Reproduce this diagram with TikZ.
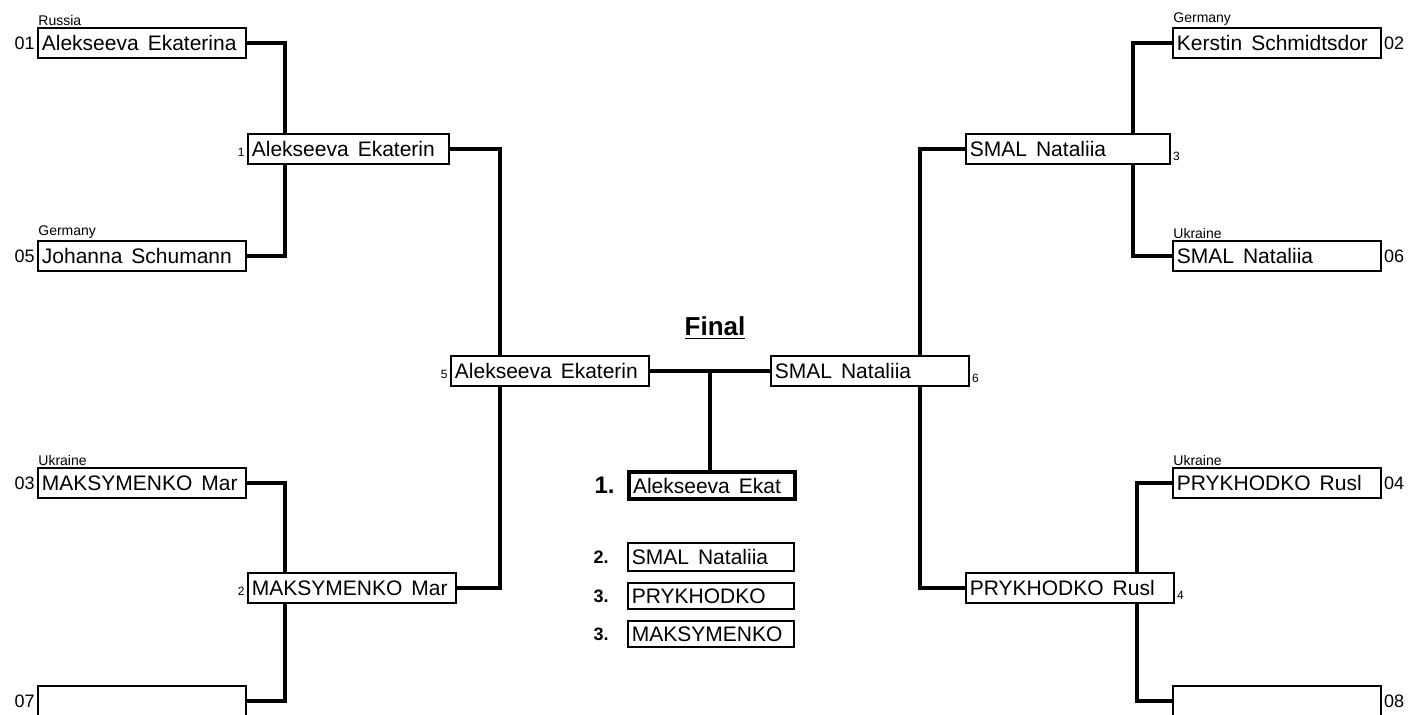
\documentclass[tikz,border=0pt]{standalone}
\usepackage{fontspec}
\setmainfont{Liberation Sans}
\usetikzlibrary{positioning,calc}
\tikzset{
  namebox/.style={draw, line width=0.9pt, inner sep=2pt, text width=#1, align=left,
    minimum height=15pt, anchor=north west, font=\fontsize{10.5}{12}\selectfont,
    execute at begin node={\spaceskip=4.5pt plus 1pt\relax}},
  seed/.style={inner sep=1pt, font=\fontsize{9}{10}\selectfont},
  country/.style={inner sep=0.5pt, anchor=south west, font=\fontsize{7}{8}\selectfont},
  roundno/.style={inner sep=1pt, font=\fontsize{6}{7}\selectfont},
  link/.style={line width=2pt},
  place/.style={inner sep=1pt, anchor=east, font=\bfseries\fontsize{9}{10}\selectfont},
}
\begin{document}
\begin{tikzpicture}[x=0.5pt,y=-0.5pt]
\useasboundingbox (0,0) rectangle (1413,715);
% Left first round
\node[namebox=100pt] (r01) at (37,27) {Alekseeva Ekaterina};
\node[namebox=100pt] (r05) at (37,240) {Johanna Schumann};
\node[namebox=100pt] (r03) at (37,467) {MAKSYMENKO Mar};
\node[namebox=100pt] (r07) at (37,685) {};
\node[seed, left=0pt of r01] (n01) {01};
\node[seed, left=0pt of r05] (n05) {05};
\node[seed, left=0pt of r03] (n03) {03};
\node[seed, left=0pt of r07] (n07) {07};
\node[country] (c01) at (r01.north west) {Russia};
\node[country] (c05) at (r05.north west) {Germany};
\node[country] (c03) at (r03.north west) {Ukraine};
% Right first round
\node[namebox=100pt] (r02) at (1172,27) {Kerstin Schmidtsdor};
\node[namebox=100pt] (r06) at (1172,240) {SMAL Nataliia};
\node[namebox=100pt] (r04) at (1172,467) {PRYKHODKO Rusl};
\node[namebox=100pt] (r08) at (1172,685) {};
\node[seed, right=0pt of r02] (n02) {02};
\node[seed, right=0pt of r06] (n06) {06};
\node[seed, right=0pt of r04] (n04) {04};
\node[seed, right=0pt of r08] (n08) {08};
\node[country] (c02) at (r02.north west) {Germany};
\node[country] (c06) at (r06.north west) {Ukraine};
\node[country] (c04) at (r04.north west) {Ukraine};
% Second round
\node[namebox=96.5pt] (q1) at (247,133) {Alekseeva Ekaterin};
\node[namebox=100pt] (q2) at (247,572) {MAKSYMENKO Mar};
\node[namebox=98pt] (q3) at (965,133) {SMAL Nataliia};
\node[namebox=100pt] (q4) at (965,572) {PRYKHODKO Rusl};
\node[roundno, anchor=south east] (m1) at ([yshift=3pt]q1.south west) {1};
\node[roundno, anchor=south east] (m2) at ([yshift=3pt]q2.south west) {2};
\node[roundno, anchor=south west] (m3) at ([yshift=1pt]q3.south east) {3};
\node[roundno, anchor=south west] (m4) at ([yshift=1pt]q4.south east) {4};
% Semi finals
\node[namebox=95pt] (s5) at (450,355) {Alekseeva Ekaterin};
\node[namebox=95pt] (s6) at (770,355) {SMAL Nataliia};
\node[roundno, anchor=south east] (m5) at ([yshift=3pt]s5.south west) {5};
\node[roundno, anchor=south west] (m6) at ([yshift=1pt]s6.south east) {6};
% Final and places
\node[font=\bfseries\fontsize{13}{14}\selectfont] (ttl) at (715,328) {\underline{Final}};
\node[namebox=79pt, line width=2pt, minimum height=13.5pt] (w1) at (627,470) {Alekseeva Ekat};
\node[namebox=79pt, minimum height=14pt] (p2) at (627,542) {SMAL Nataliia};
\node[namebox=79pt, minimum height=13pt] (p3a) at (627,582) {PRYKHODKO};
\node[namebox=79pt, minimum height=13pt] (p3b) at (627,620) {MAKSYMENKO};
\node[place, font=\bfseries\fontsize{12}{13}\selectfont] (l1) at ([xshift=-5pt]w1.west) {1.};
\node[place] (l2) at ([xshift=-8pt]p2.west) {2.};
\node[place] (l3a) at ([xshift=-8pt]p3a.west) {3.};
\node[place] (l3b) at ([xshift=-8pt]p3b.west) {3.};
% Draw connectors, left half
\draw[link] (r01.east) -| ([xshift=19pt]q1.north west);
\draw[link] ([xshift=19pt]q1.south west) |- (r05.east);
\draw[link] (r03.east) -| ([xshift=19pt]q2.north west);
\draw[link] ([xshift=19pt]q2.south west) |- (r07.east);
\draw[link] (q1.east) -| ([xshift=25pt]s5.north west);
\draw[link] ([xshift=25pt]s5.south west) |- (q2.east);
% Draw connectors, right half
\draw[link] (r02.west) -| ([xshift=-19pt]q3.north east);
\draw[link] ([xshift=-19pt]q3.south east) |- (r06.west);
\draw[link] (r04.west) -| ([xshift=-19pt]q4.north east);
\draw[link] ([xshift=-19pt]q4.south east) |- (r08.west);
\draw[link] (q3.west) -| ([xshift=-25pt]s6.north east);
\draw[link] ([xshift=-25pt]s6.south east) |- (q4.west);
% Draw final
\coordinate (fm) at ($(s5.east)!0.5!(s6.west)$);
\draw[link] (s5.east) -- (s6.west);
\draw[link] (fm) -- (fm |- w1.north);
\end{tikzpicture}
\end{document}
